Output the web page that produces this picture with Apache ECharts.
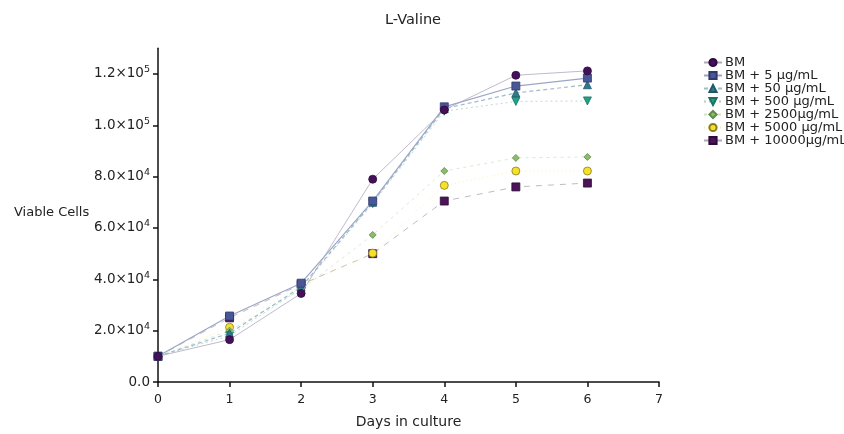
<!DOCTYPE html>
<html><head><meta charset="utf-8">
<script src="https://cdn.jsdelivr.net/npm/echarts@6/dist/echarts.min.js"></script>
<style>html,body{margin:0;padding:0;background:#fff}#c{width:844px;height:434px}</style>
</head><body><div id="c"></div>
<script>
var days = [0, 1, 2, 3, 4, 5, 6];
var seriesNames = ['BM', 'BM + 5 μg/mL', 'BM + 50 μg/mL', 'BM + 500 μg/mL', 'BM + 2500μg/mL', 'BM + 5000 μg/mL', 'BM + 10000μg/mL'];
var bm      = [10000, 16500, 34500, 79000, 106000, 119500, 121200];
var bm5     = [10000, 25700, 38500, 70500, 107200, 115300, 118400];
var bm50    = [10000, 19000, 37000, 70000, 106500, 112600, 115800];
var bm500   = [10000, 18000, 36500, 69500, 105500, 109300, 109500];
var bm2500  = [10000, 20000, 36000, 57300, 82200, 87300, 87700];
var bm5000  = [10000, 21300, 37500, 50200, 76600, 82200, 82200];
var bm10000 = [10000, 25000, 38000, 50000, 70500, 76000, 77500];
var yTicks = [0, 20000, 40000, 60000, 80000, 100000, 120000];
var yTickLabels = ['0.0', '2.0×10^4', '4.0×10^4', '6.0×10^4', '8.0×10^4', '1.0×10^5', '1.2×10^5'];

var FONT = 'DejaVu Sans, Liberation Sans, sans-serif';
var allData = [bm, bm5, bm50, bm500, bm2500, bm5000, bm10000];
var colors = ['#45105a', '#4a5796', '#2f7a8c', '#25a088', '#8cbb6c', '#f5e12c', '#4b1456'];
var borders = ['#2d0a3c', '#2e3a6e', '#1f5866', '#157560', '#5f8a48', '#8a7d18', '#2d0a3c'];
var symbols = ['circle', 'rect', 'triangle', 'path://M0,0 L10,0 L5,10 Z', 'diamond', 'circle', 'rect'];
var sizes = [8, 8, 8, 8, 7, 8, 8];
var lineColors = ['#b3a7bf', '#9ba6c6', '#9dbdca', '#acd0c8', '#d3e3c4', '#f2eeb0', '#b3a8b3'];
var lineTypes = ['solid', 'solid', [4, 3], [2, 3], [3, 4], [1, 3], [6, 6]];

function fmtLabel(v) {
  var i = yTicks.indexOf(v);
  if (i < 0) return '';
  var s = yTickLabels[i];
  var p = s.split('^');
  if (p.length === 1) return s;
  return p[0] + '{sup|' + p[1] + '}';
}

var series = seriesNames.map(function (name, k) {
  return {
    name: name,
    type: 'line',
    data: days.map(function (d, j) { return [d, allData[k][j]]; }),
    symbol: symbols[k],
    symbolSize: sizes[k],
    itemStyle: { color: colors[k], borderColor: borders[k], borderWidth: 0.8 },
    lineStyle: { color: lineColors[k], width: (k === 1 || k === 2) ? 1.2 : 0.8, type: lineTypes[k] },
    z: 10 - k
  };
});

var chart = echarts.init(document.getElementById('c'), null, { renderer: 'canvas' });
chart.setOption({
  animation: false,
  backgroundColor: '#fff',
  textStyle: { fontFamily: FONT },
  title: { text: 'L-Valine', left: 408, top: 8, textAlign: 'center',
    textStyle: { fontSize: 14.5, fontWeight: 'normal', color: '#222', fontFamily: FONT } },
  legend: {
    orient: 'vertical', left: 698, top: 51, itemGap: 0, itemWidth: 18, itemHeight: 9,
    textStyle: { fontSize: 13, lineHeight: 12.6, color: '#222', fontFamily: FONT, padding: [0, 0, 0, -2] },
    data: seriesNames
  },
  graphic: [{ type: 'text', left: 14, top: 206, style: { text: 'Viable Cells', fontSize: 13, fill: '#222', fontFamily: FONT } }],
  grid: { left: 158, right: 185, top: 48.3, bottom: 52, containLabel: false },
  xAxis: {
    type: 'value', min: 0, max: 7, interval: 1,
    name: 'Days in culture', nameLocation: 'middle', nameGap: 33,
    nameTextStyle: { fontSize: 14, color: '#222', fontFamily: FONT },
    axisLine: { lineStyle: { color: '#111', width: 1.5 } },
    axisTick: { length: 5, lineStyle: { color: '#111', width: 1.5 } },
    axisLabel: { fontSize: 12.5, color: '#222', margin: 11, fontFamily: FONT },
    splitLine: { show: false }
  },
  yAxis: {
    type: 'value', min: 0, max: 130000,
    axisLine: { show: true, lineStyle: { color: '#111', width: 1.5 } },
    axisTick: { show: true, length: 5, customValues: yTicks, lineStyle: { color: '#111', width: 1.5 } },
    axisLabel: { fontSize: 13.5, color: '#222', margin: 8, customValues: yTicks, formatter: fmtLabel, fontFamily: FONT,
      rich: { sup: { fontSize: 9.5, fontFamily: FONT, verticalAlign: 'top', padding: [0, 0, 8, 0], color: '#222' } } },
    splitLine: { show: false }
  },
  series: series
});
</script></body></html>
